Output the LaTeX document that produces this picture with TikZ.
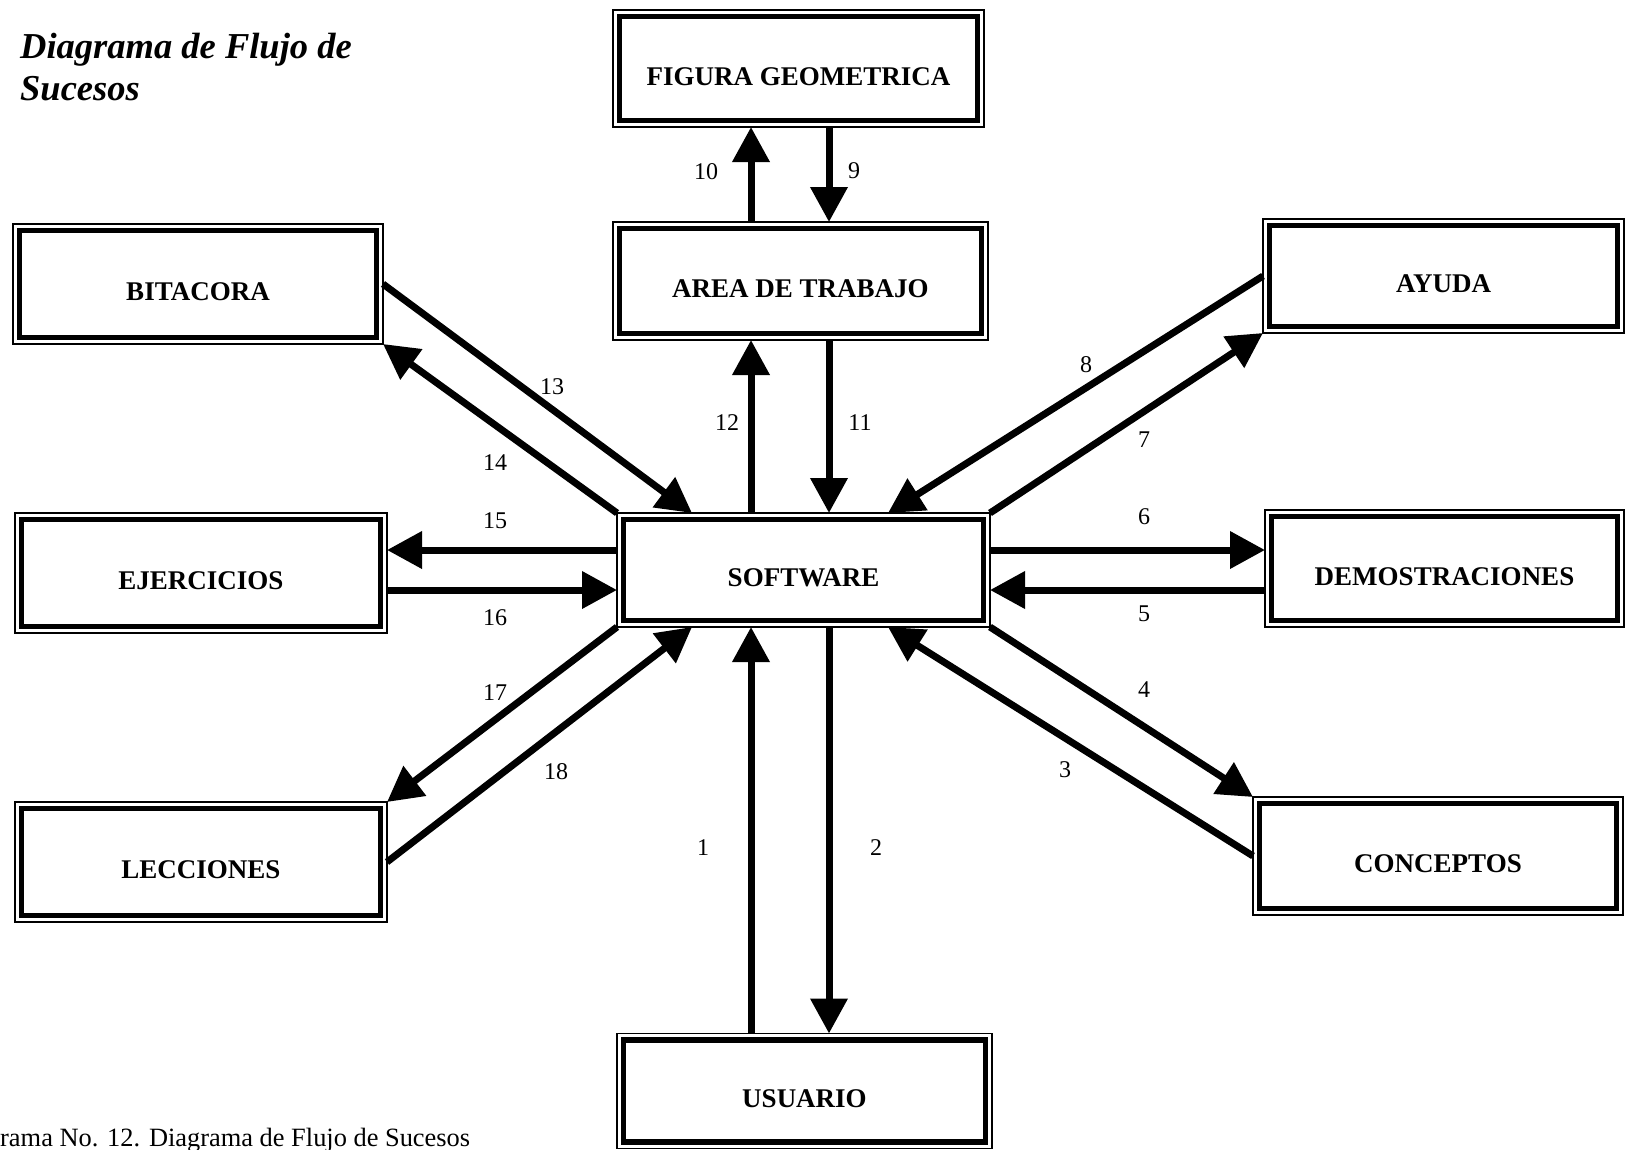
\documentclass[tikz,border=0pt]{standalone}
\usepackage{fontspec}
\setmainfont{Liberation Serif}
\usetikzlibrary{arrows.meta}
\begin{document}
\begin{tikzpicture}[x=1pt,y=-1pt,
  box/.style={draw, line width=5.5pt, outer sep=6.5pt, inner sep=0pt,
    font=\fontsize{27}{30}\selectfont\bfseries, text height=33pt, text depth=0pt},
  size/.style 2 args={minimum width={(#1-13)*1pt}, minimum height={(#2-13)*1pt}},
  frame/.style={line width=1.5pt},
  flow/.style={line width=7pt, -{Triangle[width=36pt,length=35pt]}},
  num/.style={font=\fontsize{24}{28}\selectfont, inner sep=0pt},
  heading/.style={anchor=base west, inner sep=0pt, font=\fontsize{36.5}{40}\selectfont\bfseries\itshape},
]
\useasboundingbox (0,0) rectangle (1625,1149);

% heading and caption
\node[heading] (title1) at (20,58) {Diagrama de Flujo de};
\node[heading] (title2) at (20,100) {Sucesos};
\node[anchor=base west, inner sep=0pt, font=\fontsize{26.4}{30}\selectfont] (caption) at (0,1146) {rama No. 12. Diagrama de Flujo de Sucesos};

% boxes (thick inner border; thin outer frame drawn below)
\node[box, size={371}{117}] (fig)  at (798.5,68.5) {FIGURA GEOMETRICA};
\node[box, size={375}{118}] (area) at (800.5,281)  {AREA DE TRABAJO};
\node[box, size={373}{114}] (sw)   at (803.5,570) {SOFTWARE};
\node[box, size={375}{115}] (usr)  at (804.5,1091) {USUARIO};
\node[box, size={370}{120}] (bit)  at (198,284)   {BITACORA};
\node[box, size={372}{120}] (eje)  at (201,573)   {EJERCICIOS};
\node[box, size={372}{120}] (lec)  at (201,862)   {LECCIONES};
\node[box, size={361}{114}] (ayu)  at (1443.5,276) {AYUDA};
\node[box, size={359}{117}] (dem)  at (1444.5,568.5) {DEMOSTRACIONES};
\node[box, size={370}{118}] (con)  at (1438,856)  {CONCEPTOS};

\foreach \n in {fig,area,sw,usr,bit,eje,lec,ayu,dem,con}
  \draw[frame] (\n.south west) rectangle (\n.north east);

% reference lines for the connectors
\coordinate (xl)  at (751,0);
\coordinate (xr)  at (829,0);
\coordinate (xdl) at (692,0);
\coordinate (xdr) at (888,0);
\coordinate (yu)  at (0,550);
\coordinate (yd)  at (0,590);

% connectors
\draw[flow] (area.north -| xl) -- (fig.south -| xl);
\draw[flow] (fig.south -| xr) -- (area.north -| xr);
\draw[flow] (sw.north -| xl) -- (area.south -| xl);
\draw[flow] (area.south -| xr) -- (sw.north -| xr);
\draw[flow] (usr.north -| xl) -- (sw.south -| xl);
\draw[flow] (sw.south -| xr) -- (usr.north -| xr);
\draw[flow] (sw.west |- yu) -- (eje.east |- yu);
\draw[flow] (eje.east |- yd) -- (sw.west |- yd);
\draw[flow] (sw.east |- yu) -- (dem.west |- yu);
\draw[flow] (dem.west |- yd) -- (sw.east |- yd);
\draw[flow] (bit.east) -- (sw.north -| xdl);
\draw[flow] (sw.north west) -- (bit.south east);
\draw[flow] (ayu.west) -- (sw.north -| xdr);
\draw[flow] (sw.north east) -- (ayu.south west);
\draw[flow] (sw.south east) -- (con.north west);
\draw[flow] (con.west) -- (sw.south -| xdr);
\draw[flow] (sw.south west) -- (lec.north east);
\draw[flow] (lec.east) -- (sw.south -| xdl);

% connector numbers
\node[num] (n10) at (706,172) {10};
\node[num] (n9)  at (854,171) {9};
\node[num] (n13) at (552,387) {13};
\node[num] (n14) at (495,463) {14};
\node[num] (n12) at (727,423) {12};
\node[num] (n11) at (860,423) {11};
\node[num] (n8)  at (1086,365) {8};
\node[num] (n7)  at (1144,440) {7};
\node[num] (n15) at (495,521) {15};
\node[num] (n16) at (495,618) {16};
\node[num] (n6)  at (1144,517) {6};
\node[num] (n5)  at (1144,614) {5};
\node[num] (n17) at (495,693) {17};
\node[num] (n18) at (556,772) {18};
\node[num] (n4)  at (1144,690) {4};
\node[num] (n3)  at (1065,770) {3};
\node[num] (n1)  at (703,848) {1};
\node[num] (n2)  at (876,848) {2};
\end{tikzpicture}
\end{document}
